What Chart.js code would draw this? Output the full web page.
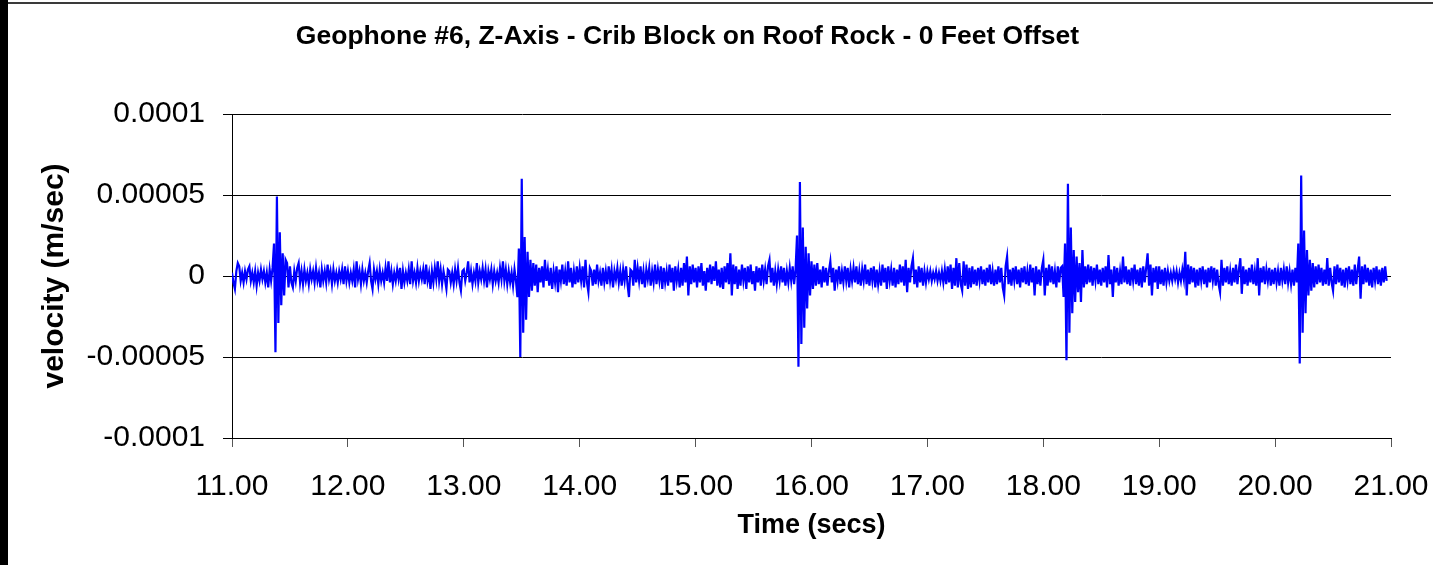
<!DOCTYPE html>
<html>
<head>
<meta charset="utf-8">
<title>Geophone #6, Z-Axis</title>
<script src="https://cdn.jsdelivr.net/npm/chart.js@4.4.1/dist/chart.umd.min.js"></script>
<style>
    html, body {
        margin: 0;
        padding: 0;
        background: #ffffff;
    }

    #chartBox {
        position: absolute;
        left: 0;
        top: 0;
        width: 1433px;
        height: 565px;
    }
</style>
</head>
<body>
<div id="chartBox">
    <canvas id="geoChart" width="1433" height="565"></canvas>
</div>

<script>
// ======================
// DATA (velocity in micro m/sec, one array per second, 0.0125 s steps)
// ======================
const STEP = 0.0125;
const MICRO = 1e-6;

const s11 = [2, -4, -8, 3, 8, 6, -3, 2, -4, 3, -2, 4, 6, -3, 2, -4, 3, -6, 2, -3,
    4, -2, 3, -4, 2, -7, 4, -3, 5, 20, -47, 49, -29, 27, -18, 14, -12, 10, 8, -7,
    6, -4, -7, 3, -3, 5, 8, -4, 3, -5, 4, -3, 2, -5, 4, -2, 3, -4, 5, -3,
    2, -7, 4, -3, 3, -4, 7, -2, 3, -5, 4, -3, 2, -4, 3, -2, 4, -5, 6, -3];
const s12 = [3, -4, 2, -3, 4, -7, 9, -2, 3, -5, 4, -3, 2, -4, 3, 8, -3, -8, 4, -2,
    3, -5, 4, -3, 2, -4, 5, -3, 9, -4, 3, -5, 2, -3, 4, -2, 5, -8, 3, -4,
    2, -3, 4, -5, 9, -3, 2, -4, 5, -3, 3, -2, 4, -5, 7, -3, 2, -8, 3, -4,
    5, -2, 9, -3, 4, -5, 3, -2, -8, 4, 3, -4, 2, -5, 4, -3, 5, -4, -9, 3];
const s13 = [4, -3, 2, 9, -4, 3, -5, 2, -3, 8, -4, 3, -2, 5, -3, 4, -7, 3, -2, 4,
    -5, 3, -3, 2, -4, 5, -2, 9, -3, 4, -5, 3, -4, 2, -6, 4, -3, -13, 17, -50,
    60, -35, 24, -27, 15, -13, 10, -9, 8, -6, 7, -10, 5, -4, 6, -7, 10, -3, 4, -6,
    5, -8, 3, -4, 6, -10, 4, -3, 7, -5, 3, -6, 9, -4, 5, -7, 3, -5, 6, -4];
const s14 = [5, -3, 6, -7, 10, -4, -10, 5, 3, -6, 4, -5, 7, -3, 2, -6, 5, -4, 3, -5,
    6, -3, 4, -7, 3, -2, 5, -4, 3, -6, 4, -3, 6, -5, -13, 4, 3, -6, 10, -4,
    5, -3, 6, -5, 3, -7, 4, -2, 5, -6, 3, -4, 7, -5, 4, -3, 6, -8, 5, -4,
    3, -6, 7, -4, 5, -9, 6, -3, 4, -7, 5, -6, 8, -4, 12, -12, 6, -5, 7, -4];
const s15 = [5, -7, 6, -4, 8, -6, 3, -9, 5, -4, 7, -5, 6, -3, 9, -6, 4, -7, 5, -8,
    6, -4, 8, -5, 14, -12, 7, -5, 6, -8, 4, -6, 7, -3, 5, -8, 6, -4, 7, -5,
    3, -9, 6, -4, 5, -6, 7, -3, 4, -5, 6, 10, -4, 5, -6, 3, -5, 4, -3, 6,
    -4, 5, -6, 3, -4, 5, -3, 6, -5, 4, 25, -56, 58, -42, 30, -32, 18, -20, 14, -12];
const s16 = [9, -8, 7, -6, 8, -5, 4, -7, 6, -4, 5, -6, 3, 9, -4, 5, -9, 4, -3, 6,
    -5, 3, -4, 6, -3, 5, -7, 4, -3, 5, -4, 6, -5, 3, -6, 4, -3, 7, -5, 4,
    -6, 5, -3, 6, -7, 4, -5, 3, -6, 7, -4, 5, -8, 6, -3, 4, -6, 5, -7, 4,
    -5, 7, -4, 6, -6, 10, -10, 5, -4, 6, 11, -5, 4, -7, 6, -4, 5, -6, 3, -4];
const s17 = [3, -2, 3, -3, 2, -2, 3, -3, 2, -3, 3, -4, 4, -5, 6, -4, 7, -8, 5, -6,
    11, -7, 8, -5, -9, 9, -6, 7, -8, 5, -7, 6, -5, 4, -6, 5, -3, 6, -5, 4,
    -6, 5, -4, 7, -5, 3, -6, 4, -5, 6, -4, 5, -7, -12, 6, 12, -5, 4, -6, 5,
    -3, 6, -5, 4, -7, 5, -4, 6, -5, 3, -6, 7, -4, 5, -12, 6, -5, 4, -6, 5];
const s18 = [10, -12, 5, -6, 7, -4, 6, -5, 3, -7, 6, -4, 5, 6, -13, 20, -52, 57, -35, 30,
    -23, 16, -16, 12, -10, 8, -16, 16, -7, 6, -5, 7, -4, 6, -6, 5, -3, 7, -5, 4,
    -6, 5, -4, 6, -7, 13, -5, 4, -13, 6, -4, 5, -6, 3, -5, 12, -4, 6, -5, 4,
    -6, 5, -3, 7, -5, 4, -6, 5, -7, 6, -4, 5, 14, -6, 7, -12, 5, -4, 6, -8];
const s19 = [6, -5, 4, -6, 5, -4, 3, -3, 2, -3, 3, -2, 3, -4, 2, -3, 4, -2, 15, -12,
    7, -5, 6, -4, 5, -7, 4, -6, 5, -3, 6, -5, 4, -7, 5, -4, 6, -3, 5, -6,
    4, -5, -10, 10, -6, 5, -4, 6, -5, 3, -6, 5, -4, 7, -5, 4, 11, -11, 6, -5,
    4, -6, 5, -4, 7, -5, 3, -6, 11, -12, 5, -4, 6, -5, 4, -3, 5, -6, 4, -5];
const s20 = [5, -4, 3, -6, 5, -3, 4, -5, 6, -4, 3, -5, 4, -6, 5, -4, 20, -54, 62, -35,
    28, -23, 16, -12, 10, -9, 8, -7, 6, -5, 7, -4, 5, -6, 4, -5, 11, -6, 5, -4,
    -9, 6, -5, 7, -4, 5, -6, 4, -7, 5, -3, 6, -5, 4, -6, 7, -5, 4, 12, -14,
    6, -5, 7, -4, 5, -6, 4, -7, 5, -3, 6, -5, 4, -6, 5, -4, 6, -3];

const segments = [s11, s12, s13, s14, s15, s16, s17, s18, s19, s20];
const segmentStart = [11, 12, 13, 14, 15, 16, 17, 18, 19, 20];

const xTickValues = [11, 12, 13, 14, 15, 16, 17, 18, 19, 20, 21];
const xTickLabels = ["11.00", "12.00", "13.00", "14.00", "15.00",
    "16.00", "17.00", "18.00", "19.00", "20.00", "21.00"];
const yTickValues = [-0.0001, -0.00005, 0, 0.00005, 0.0001];
const yTickLabels = ["-0.0001", "-0.00005", "0", "0.00005", "0.0001"];

let points = [];

segments.forEach((seg, k) => {
    seg.forEach((v, i) => {
        points.push({
            x: segmentStart[k] + i * STEP,
            y: v * MICRO
        });
    });
});

// ======================
// FRAME (black strip on the left, thin line on top)
// ======================
const framePlugin = {
    id: "frame",
    beforeDraw(chart) {
        const ctx = chart.ctx;
        ctx.save();
        ctx.fillStyle = "#ffffff";
        ctx.fillRect(0, 0, chart.width, chart.height);
        ctx.fillStyle = "#000000";
        ctx.fillRect(0, 0, 8, chart.height);
        ctx.fillStyle = "#3a3a3a";
        ctx.fillRect(8, 2, chart.width - 8, 2);
        ctx.restore();
    }
};

Chart.defaults.font.family = "'Liberation Sans', Arial, sans-serif";
Chart.defaults.color = "#000000";

new Chart(
    document.getElementById("geoChart"),
    {
        type: "line",

        data: {
            datasets: [{
                data: points,
                borderColor: "#0000ff",
                borderWidth: 2.2,
                pointRadius: 0,
                tension: 0,
                fill: false
            }]
        },

        options: {
            responsive: false,
            animation: false,
            // negative left padding shifts the title centre to match the original
            layout: {
                padding: { left: -16, right: 42, top: 0, bottom: 0 }
            },

            plugins: {
                legend: { display: false },
                tooltip: { enabled: false },
                title: {
                    display: true,
                    text: "Geophone #6, Z-Axis - Crib Block on Roof Rock - 0 Feet Offset",
                    color: "#000000",
                    font: { size: 26.5, weight: "bold" },
                    padding: { top: 21, bottom: 61.2 }
                }
            },

            scales: {
                x: {
                    type: "linear",
                    min: 11,
                    max: 21,
                    afterFit: s => {
                        s.height = 127;
                        s.paddingLeft = 0;
                        s.paddingRight = 0;
                    },
                    afterBuildTicks: s => {
                        s.ticks = xTickValues.map(v => ({ value: v }));
                    },
                    ticks: {
                        font: { size: 30 },
                        color: "#000000",
                        padding: 22,
                        maxRotation: 0,
                        autoSkip: false,
                        callback: (v, i) => xTickLabels[i]
                    },
                    grid: {
                        drawOnChartArea: false,
                        drawTicks: true,
                        tickLength: 9,
                        color: "#555555"
                    },
                    border: { display: true, color: "#000000", width: 1 },
                    title: {
                        display: true,
                        text: "Time (secs)",
                        color: "#000000",
                        font: { size: 27, weight: "bold" },
                        padding: { top: 0, bottom: 23 }
                    }
                },

                y: {
                    type: "linear",
                    min: -0.0001,
                    max: 0.0001,
                    afterFit: s => { s.width = 248; },
                    afterBuildTicks: s => {
                        s.ticks = yTickValues.map(v => ({ value: v }));
                    },
                    ticks: {
                        font: { size: 30 },
                        color: "#000000",
                        padding: 18,
                        autoSkip: false,
                        callback: (v, i) => yTickLabels[i]
                    },
                    grid: {
                        drawTicks: true,
                        tickLength: 9,
                        color: "#000000",
                        lineWidth: 1
                    },
                    border: { display: true, color: "#000000", width: 1 },
                    title: {
                        display: true,
                        text: "velocity (m/sec)",
                        color: "#000000",
                        font: { size: 30, weight: "bold" },
                        padding: { top: 53, bottom: 0 }
                    }
                }
            }
        },

        plugins: [framePlugin]
    }
);
</script>
</body>
</html>
